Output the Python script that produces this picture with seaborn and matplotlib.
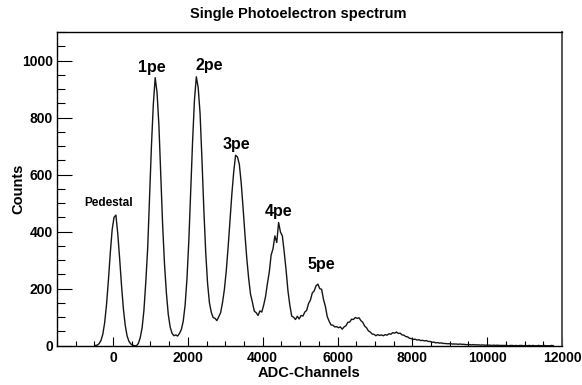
import numpy as np
import pandas as pd
import matplotlib
matplotlib.use("Agg")
import matplotlib.pyplot as plt
from matplotlib.ticker import FixedLocator, MultipleLocator
import seaborn as sns

# Histogram binning of the ADC spectrum
adc_start = -500
bin_width = 50

# Counts per 50-channel bin, grouped by photoelectron region
counts_pedestal = [1, 2, 7, 18, 40, 81, 145, 230, 325, 407, 450, 458, 393, 306,
                   212, 130, 71, 34, 15, 6, 2, 0, 0, 8]
counts_1pe = [28, 62, 125, 225, 343, 518, 699, 845, 940, 888, 772, 602, 422, 285,
              185, 110, 66, 44, 35, 38]
counts_2pe = [34, 43, 57, 86, 142, 235, 369, 540, 716, 861, 943, 905, 815, 655,
              481, 330, 220, 151, 117, 99]
counts_3pe = [96, 88, 102, 116, 151, 197, 262, 345, 439, 532, 610, 668, 662, 636,
              570, 483, 390, 305, 235, 180, 152, 121, 116, 106]
counts_4pe = [122, 118, 142, 172, 218, 258, 318, 340, 385, 362, 432, 398, 385, 328,
              265, 192, 142, 104, 100]
counts_5pe = [92, 103, 94, 106, 104, 118, 124, 148, 160, 185, 192, 210, 216, 200,
              198, 162, 138, 102, 86, 73, 72, 66, 67, 63, 66, 58]
counts_6pe = [66, 70, 82, 83, 93, 92, 99, 96, 98, 88, 82, 69, 63, 52, 48, 41, 40,
              35, 39, 36, 38, 35, 39, 37, 42, 40, 46, 44, 48, 43, 44, 38, 37, 32,
              31, 26, 25]
counts_tail = [22, 23, 20, 21, 18, 19, 17, 18, 15, 15, 12, 13, 10, 11, 9, 10, 8, 8,
               7, 7, 7, 6, 6, 6, 5, 6, 5, 5, 4, 4, 4, 3, 4, 3, 3, 3, 2, 3, 2, 2,
               2, 2, 1, 2, 1, 2, 1, 1, 1, 1, 1, 0, 1, 1, 0, 1, 0, 1, 1, 0, 1, 0,
               1, 0, 1, 0, 0, 1, 0, 0, 1, 0, 0, 0, 1, 0]

peak_names = ["Pedestal", "1pe", "2pe", "3pe", "4pe", "5pe"]
x_tick_values = [0, 2000, 4000, 6000, 8000, 10000, 12000]
y_tick_values = [0, 200, 400, 600, 800, 1000]

sns.set_theme(style="ticks")
plt.rcParams["font.family"] = ["Liberation Sans", "DejaVu Sans"]
plt.rcParams["font.weight"] = "bold"
plt.rcParams["axes.labelweight"] = "bold"

counts = np.concatenate([counts_pedestal, counts_1pe, counts_2pe, counts_3pe,
                         counts_4pe, counts_5pe, counts_6pe, counts_tail]).astype(float)
n_bins = len(counts)
adc_stop = adc_start + bin_width * n_bins
centers = adc_start + bin_width * (np.arange(n_bins) + 0.5)
df = pd.DataFrame({"adc": centers, "counts": counts})

fig = plt.figure(figsize=(5.82, 3.85), dpi=100)
fig.patch.set_facecolor("white")
ax = fig.add_axes([0.0979, 0.102, 0.8677, 0.8149])
ax.set_facecolor("white")

sns.histplot(data=df, x="adc", weights="counts", binwidth=bin_width,
             binrange=(adc_start, adc_stop), element="poly",
             fill=False, color="#151515", linewidth=1.0, ax=ax)

ax.set_xlim(-1500, 12000)
ax.set_ylim(0, 1100)

ax.xaxis.set_major_locator(FixedLocator(x_tick_values))
ax.xaxis.set_minor_locator(MultipleLocator(500))
ax.yaxis.set_major_locator(FixedLocator(y_tick_values))
ax.yaxis.set_minor_locator(MultipleLocator(50))
ax.set_xticklabels([str(v) for v in x_tick_values])
ax.set_yticklabels([str(v) for v in y_tick_values])

ax.tick_params(axis="x", which="both", direction="in", top=False, bottom=True,
               labelsize=10, pad=4, width=0.8, color="black", labelcolor="black")
ax.tick_params(axis="x", which="major", length=6.8)
ax.tick_params(axis="x", which="minor", length=3.4)
ax.tick_params(axis="y", which="both", direction="in", left=True, right=False,
               labelsize=10, pad=3, width=0.8, color="black", labelcolor="black")
ax.tick_params(axis="y", which="major", length=10.8)
ax.tick_params(axis="y", which="minor", length=5.4)

for side in ["left", "bottom", "top"]:
    ax.spines[side].set_color("black")
    ax.spines[side].set_linewidth(1.0)
ax.spines["right"].set_color("#555555")
ax.spines["right"].set_linewidth(1.4)

ax.set_xlabel("ADC-Channels", fontsize=10.5, fontweight="bold", color="black")
ax.set_ylabel("Counts", fontsize=10.5, fontweight="bold", color="black")
ax.xaxis.set_label_coords(0.5, -0.086)
ax.xaxis.label.set_va("center")
ax.yaxis.set_label_coords(-0.077, 0.5)
ax.yaxis.label.set_va("center")

fig.text(0.512, 0.9636, "Single Photoelectron spectrum", ha="center", va="center",
         fontsize=10.5, fontweight="bold", color="black")

# Peak annotations
label_spots = [(-130, 502, 8.5), (1030, 977, 11.5), (2570, 982, 11.5),
               (3300, 706, 11.5), (4420, 472, 11.5), (5570, 286, 11.5)]
for name, (lx, ly, fs) in zip(peak_names, label_spots):
    ax.text(lx, ly, name, ha="center", va="center", fontsize=fs,
            fontweight="bold", color="black")

fig.savefig("out.png", dpi=100, facecolor="white")
